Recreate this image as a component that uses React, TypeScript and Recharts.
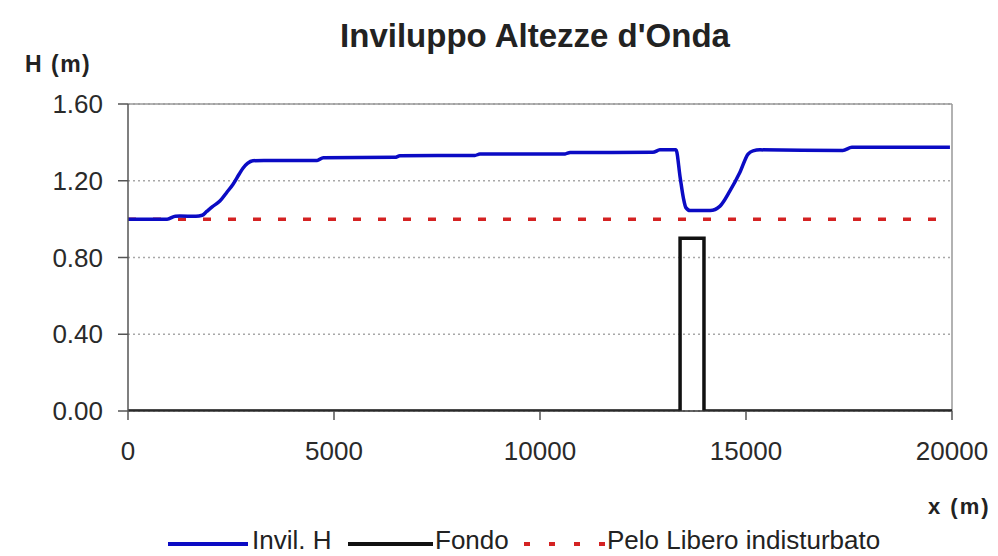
import React from "react";
import { LineChart, Line, XAxis, YAxis, CartesianGrid, ReferenceLine } from "recharts";

const TITLE = "Inviluppo Altezze d'Onda";
const Y_LABEL = "H (m)";
const X_LABEL = "x (m)";
const SERIES_NAMES = ["Invil. H", "Fondo", "Pelo Libero indisturbato"];

const xTicks = [0, 5000, 10000, 15000, 20000];
const yTicks = [0, 0.4, 0.8, 1.2, 1.6];

const invilX = [0, 950, 1150, 1260, 1650, 1800, 1910, 2050, 2230, 2400, 2550, 2700, 2790, 2900, 3030, 3300, 4590, 4740, 6480, 6600, 8420, 8540, 10610, 10730, 12740, 12910, 13300, 13400, 13480, 13540, 13640, 14130, 14370, 14610, 14850, 15050, 15170, 15340, 17350, 17570, 19950];
const invilH = [1.0, 1.0, 1.015, 1.016, 1.015, 1.02, 1.04, 1.065, 1.094, 1.14, 1.182, 1.235, 1.265, 1.29, 1.304, 1.306, 1.306, 1.32, 1.322, 1.33, 1.332, 1.339, 1.34, 1.347, 1.348, 1.361, 1.362, 1.22, 1.11, 1.06, 1.045, 1.045, 1.068, 1.147, 1.243, 1.339, 1.356, 1.361, 1.358, 1.374, 1.375];

const fondoX = [0, 13400, 13400, 13980, 13980, 20000];
const fondoH = [0, 0, 0.9, 0.9, 0, 0];

const peloX = [0, 20000];
const peloH = [1.0, 1.0];

const invilData = invilX.map((x, i) => ({ x, y: invilH[i] }));
const fondoData = fondoX.map((x, i) => ({ x, y: fondoH[i] }));
const peloData = peloX.map((x, i) => ({ x, y: peloH[i] }));

const BLUE = "#0B0BC4";
const BLACK = "#111111";
const RED = "#D42222";
const FONT = "'Liberation Sans', Arial, sans-serif";

export default function App() {
  return (
    <div style={{ position: "absolute", left: 0, top: 0, width: 998, height: 556, background: "#fff" }}>
      <LineChart width={998} height={556} data={invilData} margin={{ top: 104, right: 46, bottom: 0, left: 0 }}>
        <CartesianGrid horizontal vertical={false} stroke="#a8a8a8" strokeDasharray="2 3" strokeWidth={1.5} />
        <ReferenceLine y={1.6} stroke="#999" strokeWidth={1.5} />
        <ReferenceLine x={20000} stroke="#999" strokeWidth={1.5} />
        <XAxis
          type="number"
          dataKey="x"
          domain={[0, 20000]}
          ticks={xTicks}
          height={145}
          tickSize={9}
          tickMargin={22}
          axisLine={{ stroke: "#333", strokeWidth: 1.5 }}
          tickLine={{ stroke: "#555", strokeWidth: 1.5 }}
          tick={{ fontSize: 26, fill: "#2a2a2a", fontFamily: FONT }}
          allowDataOverflow
        />
        <YAxis
          type="number"
          domain={[0, 1.6]}
          ticks={yTicks}
          width={128}
          tickSize={10}
          tickMargin={15}
          tickFormatter={(v: number) => v.toFixed(2)}
          axisLine={{ stroke: "#555", strokeWidth: 1.5 }}
          tickLine={{ stroke: "#555", strokeWidth: 1.5 }}
          tick={{ fontSize: 26, fill: "#2a2a2a", fontFamily: FONT }}
          allowDataOverflow
        />
        <Line data={peloData} dataKey="y" name={SERIES_NAMES[2]} stroke={RED} strokeWidth={3.5} strokeDasharray="8 17" dot={false} activeDot={false} isAnimationActive={false} />
        <Line data={fondoData} dataKey="y" name={SERIES_NAMES[1]} stroke={BLACK} strokeWidth={3.5} dot={false} activeDot={false} isAnimationActive={false} />
        <Line data={invilData} dataKey="y" name={SERIES_NAMES[0]} type="monotone" stroke={BLUE} strokeWidth={3.5} dot={false} activeDot={false} isAnimationActive={false} />
      </LineChart>
      <svg width={998} height={556} style={{ position: "absolute", left: 0, top: 0, pointerEvents: "none" }}>
        <text x={535} y={47} textAnchor="middle" fontSize={33} fontWeight="bold" fill="#222" fontFamily={FONT}>{TITLE}</text>
        <text x={25} y={72} fontSize={23} fontWeight="bold" fill="#222" fontFamily={FONT} letterSpacing={1.5}>{Y_LABEL}</text>
        <text x={928} y={514} fontSize={22} fontWeight="bold" fill="#222" fontFamily={FONT} letterSpacing={2}>{X_LABEL}</text>
        <line x1={168} x2={248} y1={544} y2={544} stroke={BLUE} strokeWidth={4} />
        <text x={252} y={549} fontSize={26} fill="#222" fontFamily={FONT}>{SERIES_NAMES[0]}</text>
        <line x1={348} x2={433} y1={544} y2={544} stroke={BLACK} strokeWidth={4} />
        <text x={435} y={549} fontSize={26} fill="#222" fontFamily={FONT}>{SERIES_NAMES[1]}</text>
        <line x1={524} x2={606} y1={544} y2={544} stroke={RED} strokeWidth={4} strokeDasharray="6 19" />
        <text x={607} y={549} fontSize={26} fill="#222" fontFamily={FONT}>{SERIES_NAMES[2]}</text>
      </svg>
    </div>
  );
}
